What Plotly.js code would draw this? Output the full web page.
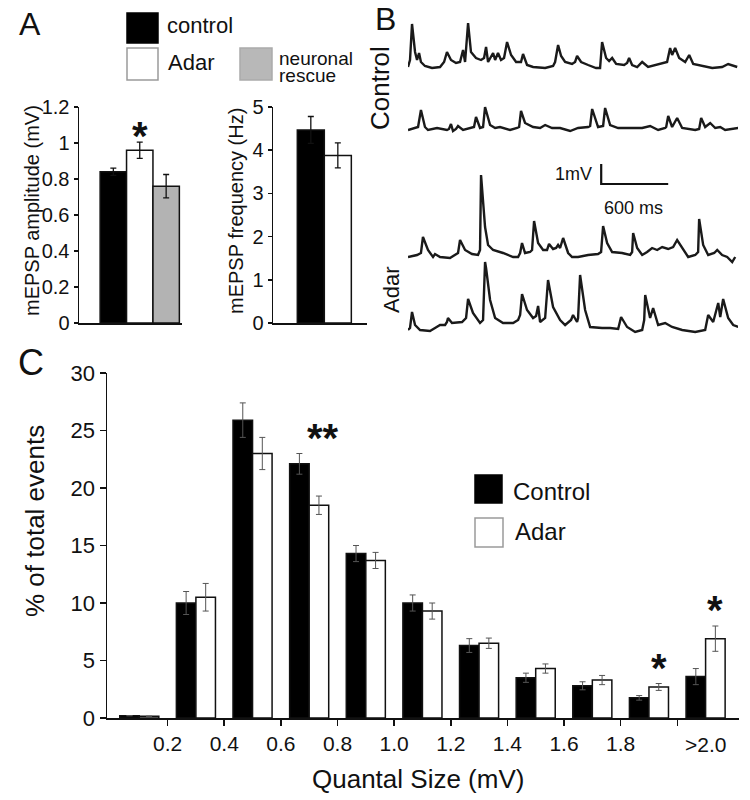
<!DOCTYPE html>
<html>
<head>
<meta charset="utf-8">
<script src="https://cdn.plot.ly/plotly-3.0.1.min.js"></script>
<style>
  html, body { margin: 0; padding: 0; background: #fff; }
  #chart { width: 750px; height: 800px; }
</style>
</head>
<body>
<div id="chart"></div>
<script>
// ---- Panel A: mEPSP amplitude and frequency ----
const groups = ["control", "Adar", "neuronal rescue"];
const groupColors = ["#000000", "#ffffff", "#b3b3b3"];
const ampMean = [0.84, 0.96, 0.76];
const ampSem = [0.02, 0.045, 0.065];
const freqGroups = ["control", "Adar"];
const freqMean = [4.47, 3.88];
const freqSem = [0.31, 0.29];

// ---- Panel B: example traces (time in ms, mV above baseline) ----
const ctrl1T = [0, 18, 36, 63, 81, 99, 116, 152, 215, 287, 323, 349, 385, 430, 466, 493, 511, 538, 564, 609,
  654, 681, 699, 717, 762, 780, 806, 833, 860, 887, 923, 968, 1012, 1030, 1066, 1120, 1228, 1299, 1317, 1344,
  1371, 1407, 1469, 1496, 1514, 1550, 1613, 1684, 1720, 1738, 1774, 1801, 1828, 1864, 1935, 1962, 1980, 2007, 2052, 2097,
  2150, 2213, 2276, 2320, 2347, 2365, 2392, 2428, 2482, 2518, 2554, 2634, 2724, 2813, 2867, 2948];
const ctrl1V = [0, 0.35, 2.15, 0.75, 0.35, 0.7, 0.25, 0.05, -0.05, 0, 0.25, 0.75, 0.35, 0.2, 0.25, 0.85, 0.25, 2.2, 0.75, 0.45,
  0.35, 0.45, 1.0, 0.25, 0.7, 0.35, 0.7, 0.35, 0.45, 1.25, 0.6, 0.25, 0.25, 0.65, 0.1, 0, -0.05, 0.05, 0.25, 1.1,
  0.55, 0.25, 0.15, 0.25, 0.55, 0.25, 0.1, -0.05, -0.05, 1.25, 0.45, 0.3, 0.45, 0.15, 0.1, 0.2, 0.45, 0.1, 0, 0.25,
  0, 0.1, 0.2, 0.25, 0.95, 0.6, 0.95, 0.45, 0.25, 0.6, 0.15, 0.05, -0.05, 0, 0.15, 0];

const ctrl2T = [0, 63, 90, 116, 152, 179, 260, 349, 367, 385, 403, 430, 448, 493, 573, 591, 609, 645, 672, 690,
  735, 780, 824, 914, 977, 995, 1012, 1048, 1120, 1183, 1228, 1290, 1362, 1452, 1523, 1613, 1631, 1649, 1702, 1747,
  1765, 1810, 1882, 2007, 2097, 2168, 2240, 2303, 2312, 2330, 2365, 2410, 2455, 2572, 2607, 2625, 2661, 2706, 2751, 2796,
  2840, 2957];
const ctrl2V = [0, 0.1, 0.15, 1.0, 0.15, 0, 0.1, 0, 0.05, 0.3, -0.05, 0.05, 0.2, 0, 0.1, 0.15, 0.65, 0.1, 0.15, 1.15,
  0.25, 0.1, 0.15, 0, 0.1, 0.15, 0.95, 0.35, 0.15, 0.1, 0.25, 0.1, 0.1, -0.05, 0.1, 0.15, 0.2, 1.05, 0.15, 0.2,
  1.1, 0.25, 0.1, 0.1, 0.1, 0.2, 0, 0.1, 0.15, 0.7, 0.15, 0.6, 0.1, 0, 0.05, 0.6, 0.15, 0.35, 0.1, 0.15,
  0, 0.1];

const adar1T = [0, 81, 116, 134, 179, 224, 242, 287, 376, 421, 448, 466, 511, 573, 627, 645, 654, 690, 717, 762,
  851, 941, 986, 1004, 1021, 1048, 1093, 1111, 1129, 1165, 1210, 1245, 1263, 1299, 1326, 1344, 1362, 1389, 1434, 1469,
  1523, 1613, 1702, 1729, 1747, 1783, 1828, 1917, 1989, 2007, 2016, 2052, 2097, 2141, 2186, 2231, 2276, 2330, 2374, 2410,
  2455, 2509, 2572, 2598, 2607, 2643, 2688, 2742, 2769, 2813, 2858, 2903, 2930];
const adar1V = [0, 0.1, 0.2, 1.0, 0.35, 0, 0.15, 0, -0.05, 0.1, 0.2, 0.85, 0.35, 0.15, 0.1, 0.35, 4.1, 1.5, 0.6, 0.35,
  0.2, 0, 0, 0.2, 0.7, 0.2, 0.25, 0.35, 1.8, 0.7, 0.35, 0.35, 0.65, 0.4, 0.45, 0.6, 0.45, 0.95, 0.2, 0,
  0, 0.1, 0.15, 0.25, 1.55, 0.7, 0.25, 0.2, 0.1, 0.25, 1.2, 0.45, 0.1, 0.25, 0.45, 0.35, 0.5, 0.4, 0.5, 0.85,
  0.45, 0, 0.1, 0.25, 1.9, 0.6, 0.1, 0.2, 0.35, 0.1, 0, -0.25, 0];

const adar2T = [0, 18, 36, 63, 108, 197, 242, 287, 332, 349, 358, 394, 484, 520, 538, 582, 645, 672, 690, 699,
  735, 780, 851, 941, 986, 1004, 1021, 1066, 1120, 1147, 1165, 1183, 1228, 1254, 1299, 1362, 1407, 1460, 1478, 1514,
  1523, 1541, 1586, 1631, 1738, 1810, 1882, 1908, 1962, 2034, 2097, 2115, 2124, 2168, 2195, 2240, 2303, 2365, 2455, 2572,
  2661, 2688, 2733, 2778, 2796, 2822, 2867, 2912, 2957];
const adar2V = [0, 0.1, 0.9, 0.25, 0, -0.05, 0.1, 0.25, 0.25, 0.4, 0.6, 0.35, 0.4, 0.6, 1.55, 0.85, 0.35, 0.5, 3.4, 3.1,
  1.5, 0.6, 0.35, 0.35, 0.5, 0.75, 1.8, 1.0, 0.6, 0.7, 1.2, 0.4, 0.6, 2.5, 1.15, 0.5, 0.25, 0.5, 0.75, 0.4,
  0.6, 2.75, 1.0, 0.15, 0.1, 0.1, 0.05, 0.65, 0.15, -0.1, 0, 0.5, 1.75, 0.6, 1.1, 0.25, 0.35, 0.15, 0, -0.1,
  0, 0.75, 0.4, 1.35, 0.65, 1.55, 0.6, 0.25, 0.15];

// ---- Panel C: quantal size distribution (% of total events) ----
const sizeBins = ["0-0.2", "0.2-0.4", "0.4-0.6", "0.6-0.8", "0.8-1.0", "1.0-1.2", "1.2-1.4", "1.4-1.6", "1.6-1.8", "1.8-2.0", ">2.0"];
const edgeLabels = ["0.2", "0.4", "0.6", "0.8", "1.0", "1.2", "1.4", "1.6", "1.8", ""];
const controlPct = [0.2, 10.0, 25.9, 22.1, 14.3, 10.0, 6.3, 3.5, 2.8, 1.75, 3.6];
const controlErr = [0, 1.0, 1.5, 0.9, 0.7, 0.7, 0.6, 0.4, 0.35, 0.2, 0.7];
const adarPct = [0.15, 10.5, 23.0, 18.5, 13.7, 9.3, 6.5, 4.3, 3.3, 2.7, 6.9];
const adarErr = [0, 1.2, 1.4, 0.8, 0.7, 0.7, 0.45, 0.4, 0.4, 0.3, 1.1];
const sigBins = [3, 9, 10];
const sigMarks = ["**", "*", "*"];

// ---- layout helpers ----
const W = 750, H = 800;
const FONT = "Liberation Sans, Arial, Helvetica, sans-serif";
const INK = "#111111";
const px = (v) => v / W;
const py = (v) => 1 - v / H;
const MV_PX = 20; // vertical scale of the traces, px per mV

function axisStyle(extra) {
  return Object.assign({
    showline: true, linecolor: INK, linewidth: 1.5,
    showgrid: false, zeroline: false, fixedrange: true,
    ticks: "outside", ticklen: 5, tickwidth: 1.5, tickcolor: INK,
    tickfont: { family: FONT, size: 20, color: INK },
  }, extra);
}

function traceRow(basePx, lo, hi) {
  return {
    domain: [py(basePx - lo * MV_PX), py(basePx - hi * MV_PX)],
    range: [lo, hi], anchor: "x3", visible: false, fixedrange: true,
  };
}

function label(text, x, y, size, extra) {
  return Object.assign({
    text: text, x: px(x), y: py(y), xref: "paper", yref: "paper",
    xanchor: "center", yanchor: "middle",
    showarrow: false, font: { family: FONT, size: size, color: INK },
  }, extra || {});
}

function swatch(x0, y0, x1, y1, fill, edge) {
  return {
    type: "rect", xref: "paper", yref: "paper",
    x0: px(x0), x1: px(x1), y0: py(y1), y1: py(y0),
    fillcolor: fill, line: { color: edge, width: 1.5 }, layer: "above",
  };
}

function star(text, xref, yref, x, y, shiftPx) {
  return {
    text: text, xref: xref, yref: yref, x: x, y: y, showarrow: false,
    xanchor: "center", yanchor: "middle", yshift: shiftPx,
    font: { family: FONT, size: 40, color: INK, weight: "bold" },
  };
}

// ---- traces ----
const traces = [];

traces.push({
  type: "bar", x: groups, y: ampMean, width: 1, xaxis: "x", yaxis: "y",
  marker: { color: groupColors, line: { color: INK, width: 1.5 } },
  error_y: { type: "data", array: ampSem, color: INK, thickness: 1.3, width: 3 },
  showlegend: false, hoverinfo: "skip",
});
traces.push({
  type: "bar", x: freqGroups, y: freqMean, width: 1, xaxis: "x2", yaxis: "y2",
  marker: { color: groupColors.slice(0, 2), line: { color: INK, width: 1.5 } },
  error_y: { type: "data", array: freqSem, color: INK, thickness: 1.3, width: 3 },
  showlegend: false, hoverinfo: "skip",
});

[[ctrl1T, ctrl1V, "y3"], [ctrl2T, ctrl2V, "y4"], [adar1T, adar1V, "y5"], [adar2T, adar2V, "y6"]].forEach(([t, v, ya]) => {
  traces.push({
    type: "scatter", mode: "lines", x: t, y: v, xaxis: "x3", yaxis: ya,
    line: { color: "#1a1a1a", width: 2.4 }, showlegend: false, hoverinfo: "skip",
  });
});

// scale bar: 1 mV x 600 ms, drawn in the coordinates of the third trace
const barT0 = 1730, barV0 = 3.65;
traces.push({
  type: "scatter", mode: "lines", x: [barT0, barT0, barT0 + 600], y: [barV0 + 1, barV0, barV0],
  xaxis: "x3", yaxis: "y5", line: { color: INK, width: 2.2 }, showlegend: false, hoverinfo: "skip",
});

const binX = sizeBins.map((_, i) => i);
traces.push({
  type: "bar", name: "Control", x: binX, y: controlPct, xaxis: "x4", yaxis: "y7",
  marker: { color: "#000000", line: { color: INK, width: 1.5 } },
  error_y: { type: "data", array: controlErr, color: "#555555", thickness: 1, width: 3 },
  showlegend: false, hoverinfo: "skip",
});
traces.push({
  type: "bar", name: "Adar", x: binX, y: adarPct, xaxis: "x4", yaxis: "y7",
  marker: { color: "#ffffff", line: { color: INK, width: 1.5 } },
  error_y: { type: "data", array: adarErr, color: "#555555", thickness: 1, width: 3 },
  showlegend: false, hoverinfo: "skip",
});

// ---- annotations ----
const annotations = [
  label("A", 30, 24, 32),
  label("B", 385, 19, 32),
  label("C", 31, 362, 36),

  label("control", 165, 26, 22, { xanchor: "left" }),
  label("Adar", 166, 62, 22, { xanchor: "left" }),
  label("neuronal", 277, 58, 19, { xanchor: "left" }),
  label("rescue", 277, 75, 19, { xanchor: "left" }),
  label("mEPSP amplitude (mV)", 32, 211, 20, { textangle: -90 }),
  label("mEPSP frequency (Hz)", 236, 211, 20, { textangle: -90 }),
  star("*", "x", "y", "Adar", ampMean[1] + ampSem[1], 15 - 9),

  label("Control", 380, 88, 26, { textangle: -90 }),
  label("Adar", 391, 290, 22, { textangle: -90 }),
  label("1mV", 594, 174, 18, { xanchor: "right" }),
  label("600 ms", 633, 208, 18),

  label("% of total events", 35, 521, 26, { textangle: -90 }),
  label("Quantal Size (mV)", 418, 779, 26),
  {
    text: sizeBins[sizeBins.length - 1], xref: "x4", x: binX[binX.length - 1], yref: "paper", y: py(744),
    xanchor: "center", yanchor: "middle",
    showarrow: false, font: { family: FONT, size: 21, color: INK },
  },
  label("Control", 511, 491, 24, { xanchor: "left" }),
  label("Adar", 513, 531, 24, { xanchor: "left" }),
];

sigBins.forEach((b, i) => {
  const top = Math.max(controlPct[b] + controlErr[b], adarPct[b] + adarErr[b]);
  const xOff = sigMarks[i].length > 1 ? 0.25 : 0.17;
  annotations.push(star(sigMarks[i], "x4", "y7", b + xOff, top, 16));
});

// ---- legend swatches ----
const shapes = [
  swatch(127, 13, 158, 43, "#000000", "#000000"),
  swatch(127, 48, 158, 80, "#ffffff", "#9a9a9a"),
  swatch(240, 48, 272, 80, "#b8b8b8", "#ababab"),
  swatch(475, 475, 502, 503, "#000000", "#000000"),
  swatch(475, 518, 503, 547, "#ffffff", "#9a9a9a"),
];

const layout = {
  width: W, height: H,
  margin: { l: 0, r: 0, t: 0, b: 0 },
  paper_bgcolor: "#ffffff", plot_bgcolor: "rgba(0,0,0,0)",
  font: { family: FONT, color: INK },
  showlegend: false,
  barmode: "group", bargap: 0.31, bargroupgap: 0,

  xaxis: axisStyle({ domain: [px(79), px(182)], anchor: "y", type: "category", range: [-1.3, 2.6], ticks: "", showticklabels: false }),
  yaxis: axisStyle({ domain: [py(323), py(107)], anchor: "x", range: [0, 1.2], tick0: 0, dtick: 0.2, ticklen: 4 }),
  xaxis2: axisStyle({ domain: [px(273), px(367)], anchor: "y2", type: "category", range: [-1.4, 2.08], ticks: "", showticklabels: false }),
  yaxis2: axisStyle({ domain: [py(323), py(107)], anchor: "x2", range: [0, 5], tick0: 0, dtick: 1, ticklen: 4 }),

  xaxis3: { domain: [px(408), px(738)], anchor: "y3", range: [0, 2955], visible: false, fixedrange: true },
  yaxis3: traceRow(67, -0.5, 2.5),
  yaxis4: traceRow(130, -0.5, 2.5),
  yaxis5: traceRow(257, -0.5, 5),
  yaxis6: traceRow(330, -0.5, 3.5),

  xaxis4: axisStyle({
    domain: [px(107), px(739)], anchor: "y7", range: [-0.57, 10.59],
    tickmode: "array", tickvals: binX.slice(0, -1).map((i) => i + 0.5), ticktext: edgeLabels,
    ticklen: 6, tickfont: { family: FONT, size: 21, color: INK },
  }),
  yaxis7: axisStyle({
    domain: [py(718), py(373)], anchor: "x4", range: [0, 30], tick0: 0, dtick: 5,
    ticklen: 6, tickfont: { family: FONT, size: 22, color: INK },
  }),

  annotations: annotations,
  shapes: shapes,
};

Plotly.newPlot("chart", traces, layout, { staticPlot: true, displayModeBar: false });
</script>
</body>
</html>
